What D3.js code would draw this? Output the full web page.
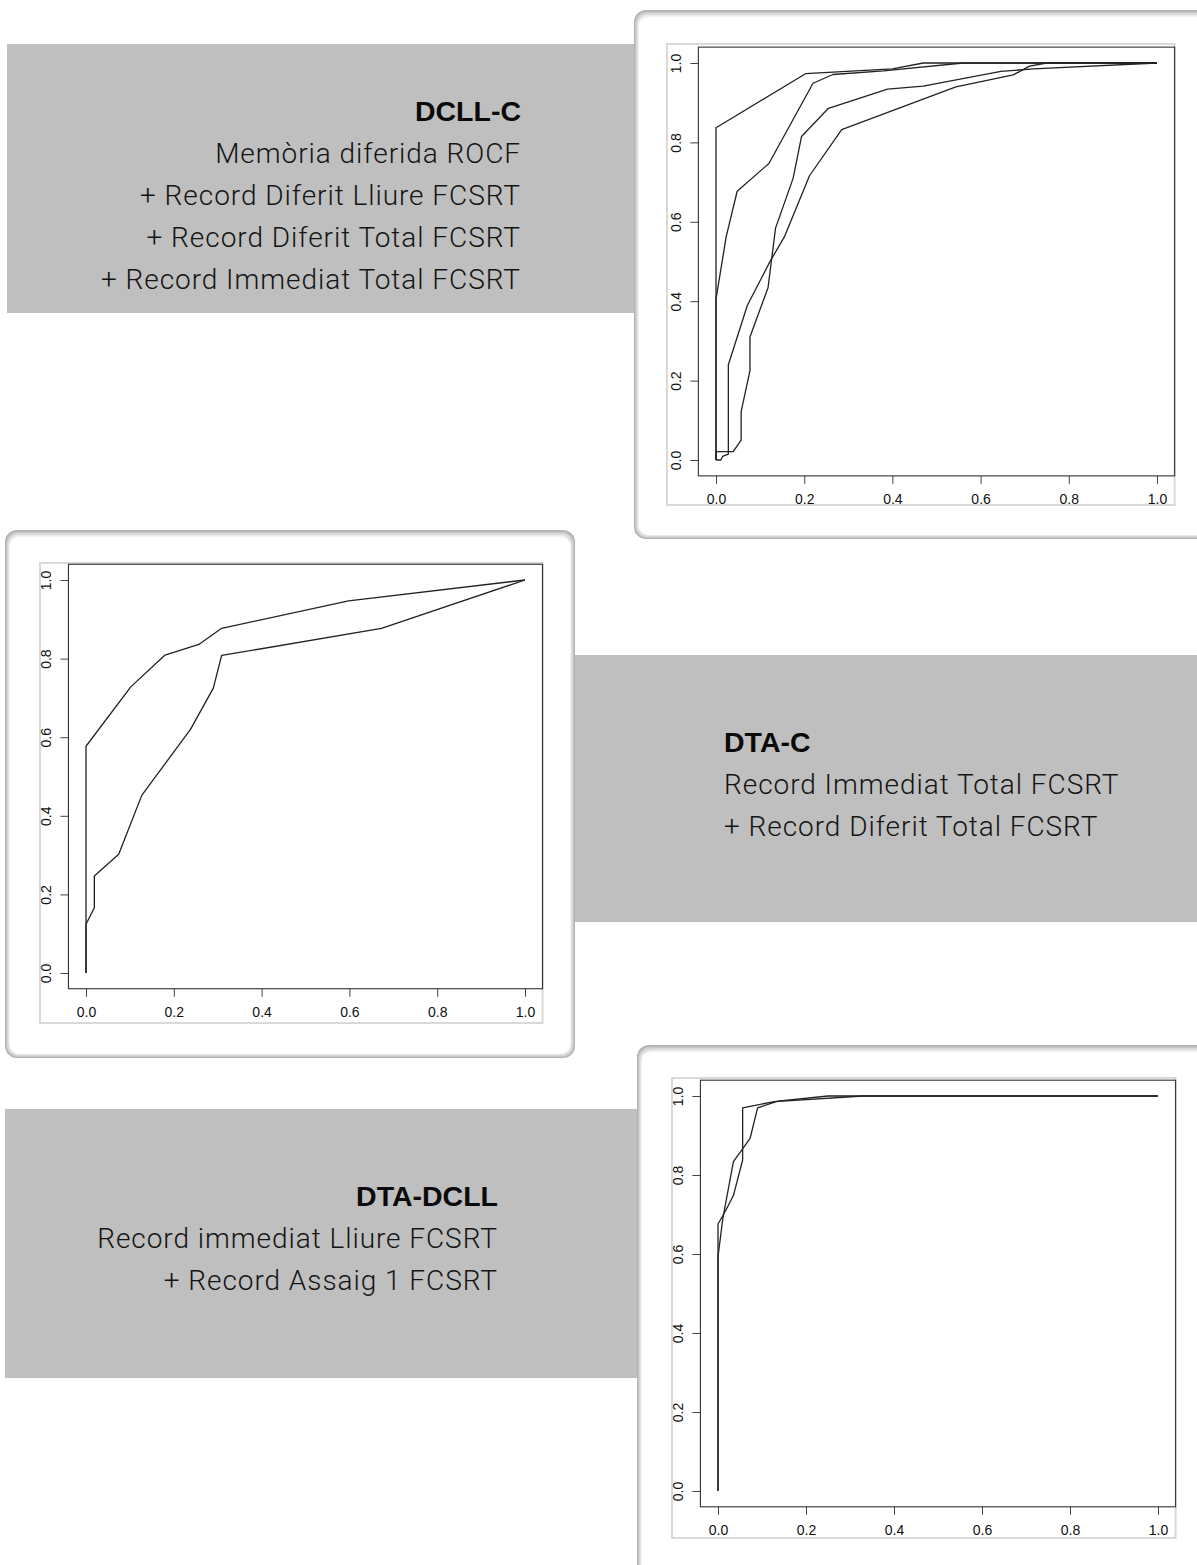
<!DOCTYPE html>
<html>
<head>
<meta charset="utf-8">
<script src="https://cdn.jsdelivr.net/npm/d3@7"></script>
<style>
html,body{margin:0;padding:0;background:#fff;}
svg{display:block;}
</style>
</head>
<body>
<div id="chart"></div>
<script>
// ---------- DATA ----------
const tickValues = [0, 0.2, 0.4, 0.6, 0.8, 1.0];
const tickLabels = ["0.0", "0.2", "0.4", "0.6", "0.8", "1.0"];

// Panel 1 : DCLL-C (4 ROC curves)
const p1A_fpr = [0, 0, 0.203, 0.40, 0.47, 1];
const p1A_tpr = [0, 0.837, 0.973, 0.985, 1.0, 1];
const p1B_fpr = [0, 0, 0.023, 0.048, 0.12, 0.22, 0.265, 0.38, 0.56, 1];
const p1B_tpr = [0, 0.405, 0.562, 0.677, 0.747, 0.949, 0.971, 0.98, 1.0, 1];
const p1C_fpr = [0, 0.011, 0.015, 0.028, 0.028, 0.071, 0.122, 0.155, 0.212, 0.285, 0.544, 0.674, 0.711, 0.75, 1];
const p1C_tpr = [0, 0, 0.009, 0.015, 0.24, 0.389, 0.499, 0.562, 0.716, 0.832, 0.94, 0.97, 0.992, 1.0, 1];
const p1D_fpr = [0, 0, 0.039, 0.057, 0.057, 0.077, 0.077, 0.118, 0.135, 0.175, 0.194, 0.255, 0.389, 0.47, 0.646, 0.72, 1];
const p1D_tpr = [0, 0.021, 0.021, 0.05, 0.122, 0.225, 0.31, 0.434, 0.584, 0.71, 0.815, 0.886, 0.934, 0.942, 0.979, 0.985, 1];

// Panel 2 : DTA-C (2 ROC curves)
const p2A_fpr = [0, 0, 0.102, 0.18, 0.257, 0.309, 0.598, 1];
const p2A_tpr = [0, 0.577, 0.728, 0.809, 0.836, 0.877, 0.947, 1];
const p2B_fpr = [0, 0, 0.019, 0.019, 0.0745, 0.127, 0.238, 0.29, 0.309, 0.673, 1];
const p2B_tpr = [0, 0.124, 0.166, 0.247, 0.302, 0.452, 0.62, 0.725, 0.808, 0.877, 1];

// Panel 3 : DTA-DCLL (2 ROC curves)
const p3A_fpr = [0, 0, 0.011, 0.035, 0.073, 0.09, 0.136, 0.25, 1];
const p3A_tpr = [0, 0.593, 0.69, 0.834, 0.893, 0.97, 0.987, 1.0, 1];
const p3B_fpr = [0, 0, 0.016, 0.035, 0.056, 0.056, 0.128, 0.33, 1];
const p3B_tpr = [0, 0.676, 0.707, 0.748, 0.838, 0.97, 0.986, 1.0, 1];

// Text boxes
const t1Title = "DCLL-C";
const t1Lines = ["Memòria diferida ROCF", "+ Record Diferit Lliure FCSRT", "+ Record Diferit Total FCSRT", "+ Record Immediat Total FCSRT"];
const t2Title = "DTA-C";
const t2Lines = ["Record Immediat Total FCSRT", "+ Record Diferit Total FCSRT"];
const t3Title = "DTA-DCLL";
const t3Lines = ["Record immediat Lliure FCSRT", "+ Record Assaig 1 FCSRT"];

// ---------- DRAW ----------
const W = 1197, H = 1565;
const svg = d3.select("#chart").append("svg").attr("width", W).attr("height", H);
svg.append("rect").attr("width", W).attr("height", H).attr("fill", "#fff");

const GRAY = "#bfbfbf";
const FONT_TXT = "Roboto, 'Liberation Sans', Arial, sans-serif";
const FONT_TITLE = "'Liberation Sans', Arial, Helvetica, sans-serif";
const FONT_AX = "'Liberation Sans', Arial, Helvetica, sans-serif";

function grayBox(x, y, w, h) {
  svg.append("rect").attr("x", x).attr("y", y).attr("width", w).attr("height", h).attr("fill", GRAY);
}
function textBlock(title, lines, x, y0, anchor) {
  const g = svg.append("g").attr("text-anchor", anchor);
  g.append("text").attr("x", x).attr("y", y0).attr("font-family", FONT_TITLE).attr("font-size", 28.5)
    .attr("font-weight", 700).attr("fill", "#0a0a0a").text(title);
  lines.forEach((l, i) => {
    g.append("text").attr("x", x).attr("y", y0 + 42 * (i + 1)).attr("font-family", FONT_TXT)
      .attr("font-size", 28).attr("letter-spacing", 0.95)
      .attr("font-weight", 300).attr("fill", "#141414").text(l);
  });
}
function card(x, y, w, h) {
  const shades = ["#b3b3b3", "#c8c8c8", "#dcdcdc", "#eeeeee", "#ffffff"];
  shades.forEach((c, i) => {
    const d = i * 1.2;
    svg.append("rect").attr("x", x + d).attr("y", y + d * 1.4).attr("width", w - 2 * d).attr("height", h - 2 * d * 1.15)
      .attr("rx", 12 - d * 0.5).attr("fill", c);
  });
}

function panel(geo, curves) {
  const x = d3.scaleLinear().domain([0, 1]).range(geo.xr);
  const y = d3.scaleLinear().domain([0, 1]).range(geo.yr);
  const bx0 = x(-0.04), bx1 = x(1.04), by0 = y(-0.04), by1 = y(1.04);
  // outer image border
  svg.append("rect").attr("x", geo.imgL).attr("y", geo.imgT).attr("width", bx1 - geo.imgL).attr("height", geo.imgB - geo.imgT)
    .attr("fill", "#fff").attr("stroke", "#d9d9d9").attr("stroke-width", 2);
  // x axis
  const gx = svg.append("g").attr("transform", `translate(0,${by0})`).attr("color", "#444")
    .call(d3.axisBottom(x).tickValues(tickValues).tickFormat((d, i) => tickLabels[i]).tickSize(8).tickPadding(10));
  gx.select(".domain").remove();
  gx.selectAll("text").attr("font-family", FONT_AX).attr("font-size", 14).attr("fill", "#111");
  // y axis
  const gy = svg.append("g").attr("transform", `translate(${bx0},0)`).attr("color", "#444")
    .call(d3.axisLeft(y).tickValues(tickValues).tickFormat((d, i) => tickLabels[i]).tickSize(8));
  gy.select(".domain").remove();
  gy.selectAll("text").attr("x", null).attr("dy", "0.35em").attr("text-anchor", "middle")
    .attr("transform", "translate(-22,0) rotate(-90)")
    .attr("font-family", FONT_AX).attr("font-size", 14).attr("fill", "#111");
  // plot box
  svg.append("rect").attr("x", bx0).attr("y", by1).attr("width", bx1 - bx0).attr("height", by0 - by1)
    .attr("fill", "none").attr("stroke", "#333").attr("stroke-width", 1.1);
  const line = d3.line().x(d => x(d[0])).y(d => y(d[1]));
  curves.forEach(c => {
    const pts = c[0].map((v, i) => [v, c[1][i]]);
    svg.append("path").attr("d", line(pts)).attr("fill", "none").attr("stroke", "#222")
      .attr("stroke-width", 1.3).attr("stroke-linejoin", "round");
  });
}

// gray text boxes (behind cards)
grayBox(7, 44, 630, 269);
grayBox(570, 655, 627, 267);
grayBox(5, 1109, 634, 269);

// cards
card(634, 10, 620, 529);
card(5, 530, 570, 528);
card(637, 1045, 620, 560);

// text
textBlock(t1Title, t1Lines, 521, 121, "end");
textBlock(t2Title, t2Lines, 724, 752, "start");
textBlock(t3Title, t3Lines, 498, 1206, "end");

// charts
panel({xr: [716, 1157], yr: [460, 63], imgL: 667, imgT: 44, imgB: 505},
  [[p1A_fpr, p1A_tpr], [p1B_fpr, p1B_tpr], [p1C_fpr, p1C_tpr], [p1D_fpr, p1D_tpr]]);
panel({xr: [86, 525], yr: [973, 580], imgL: 40, imgT: 563, imgB: 1023},
  [[p2A_fpr, p2A_tpr], [p2B_fpr, p2B_tpr]]);
panel({xr: [718, 1158], yr: [1491, 1096], imgL: 672, imgT: 1078, imgB: 1538},
  [[p3A_fpr, p3A_tpr], [p3B_fpr, p3B_tpr]]);
</script>
</body>
</html>
